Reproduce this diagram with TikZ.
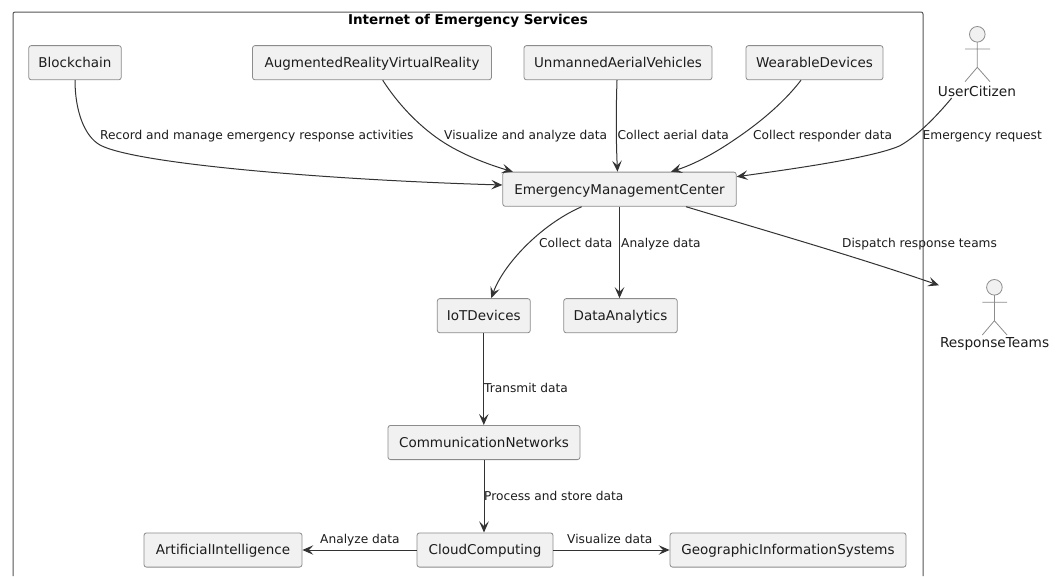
\documentclass[tikz,border=0pt]{standalone}
\usepackage{fontspec}
\setmainfont{DejaVu Sans}
\usetikzlibrary{arrows.meta}
\definecolor{boxfill}{HTML}{F1F1F1}
\definecolor{boxline}{HTML}{8C8C8C}
\definecolor{framel}{HTML}{555555}
\definecolor{connc}{HTML}{333333}
\definecolor{ink}{HTML}{1C1C1C}
\tikzset{
  box/.style={draw=boxline,fill=boxfill,line width=0.8pt,rounded corners=2.5pt,minimum height=34.2pt,inner sep=0pt,text=ink,text height=9.6pt,text depth=0pt,font=\fontsize{13.5}{15}\selectfont},
  lab/.style={anchor=west,inner sep=0pt,text=ink,font=\fontsize{12.2}{13}\selectfont,text height=8.6pt,text depth=0pt},
  actlab/.style={inner sep=0pt,text=ink,font=\fontsize{13.7}{15}\selectfont},
  flow/.style={draw=connc,line width=1pt,-{Stealth[length=11pt,width=9.5pt,inset=4.5pt]}},
  stick/.style={draw=boxline,line width=0.8pt},
}
\begin{document}
\begin{tikzpicture}[x=1pt,y=-1pt]
\useasboundingbox[fill=white] (0,0) rectangle (1062,576);
\draw[framel,line width=1pt,rounded corners=2pt] (13,576) -- (13,12) -- (923,12) -- (923,576);
\node[inner sep=0pt,text=black,font=\fontsize{13.5}{15}\selectfont\bfseries] (title) at (468,21) {Internet of Emergency Services};

\node[box,minimum width=92.5pt] (bc) at (75,62.7) {Blockchain};
\node[box,minimum width=239pt] (ar) at (372,62.7) {AugmentedRealityVirtualReality};
\node[box,minimum width=188pt] (uav) at (618,62.7) {UnmannedAerialVehicles};
\node[box,minimum width=137pt] (wd) at (814.5,62.7) {WearableDevices};
\node[box,minimum width=233.5pt] (emc) at (619.5,189.2) {EmergencyManagementCenter};
\node[box,minimum width=93pt] (iot) at (483.8,315.7) {IoTDevices};
\node[box,minimum width=113.5pt] (da) at (620.5,315.7) {DataAnalytics};
\node[box,minimum width=192pt] (cn) at (484,442.5) {CommunicationNetworks};
\node[box,minimum width=136pt] (cc) at (485,550) {CloudComputing};
\node[box,minimum width=158pt] (ai) at (223,550) {ArtificialIntelligence};
\node[box,minimum width=236pt] (gis) at (788,550) {GeographicInformationSystems};

\draw[stick,fill=boxfill] (977.3,34.3) circle (7.8);
\draw[stick] (977.3,42.1) -- (977.3,67.3) (965,49) -- (990,49) (965,81.7) -- (977.3,67.3) -- (990,81.7);
\draw[stick,fill=boxfill] (994.4,287.3) circle (7.8);
\draw[stick] (994.4,295.1) -- (994.4,320.7) (982.3,302.3) -- (1007,302.3) (982.3,335) -- (994.4,320.7) -- (1007,335);
\node[actlab] (uc) at (977,91) {UserCitizen};
\node[actlab] (rt) at (994.6,344.3) {ResponseTeams};

\coordinate (w1) at (100,145);
\coordinate (w2) at (440,140);
\coordinate (w3) at (734,140);
\coordinate (w4) at (900,145.7);

\draw[flow] (bc.south) .. controls (75,110) and (84,136) .. (w1) .. controls (135,164) and (330,180) .. ([yshift=4.2pt]emc.west);
\draw[flow] ([xshift=10.7pt]ar.south) .. controls (398,104) and (418,125) .. (w2) .. controls (462,155) and (490,165) .. ([xshift=10.5pt]emc.north west);
\draw[flow] ([xshift=-1pt]uav.south) .. controls (616,110) and (616,140) .. ([xshift=-2pt]emc.north);
\draw[flow] ([xshift=-13.5pt]wd.south) .. controls (782,105) and (755,126) .. (w3) .. controls (715,153) and (695,164) .. ([xshift=51.5pt]emc.north);
\draw[flow] ([shift={(-25.3,7)}]uc.center) .. controls (935,118) and (917,136) .. (w4) .. controls (875,157) and (800,168) .. ([yshift=12.5pt]emc.east);
\draw[flow] ([xshift=-37.8pt]emc.south) .. controls (540,225) and (503,265) .. ([xshift=7.5pt]iot.north);
\draw[flow] (emc.south) -- (emc.south |- da.north);
\draw[flow] ([xshift=66.5pt]emc.south) .. controls (770,232) and (860,258) .. ([shift={(-55.6,-59)}]rt.center);
\draw[flow] (iot.south) -- (iot.south |- cn.north);
\draw[flow] (cn.south) -- (cn.south |- cc.north);
\draw[flow] (cc.west) -- (ai.east);
\draw[flow] (cc.east) -- (gis.west);

\node[lab] (l1) at (100,135) {Record and manage emergency response activities};
\node[lab] (l2) at (444,135) {Visualize and analyze data};
\node[lab] (l3) at (617.5,135) {Collect aerial data};
\node[lab] (l4) at (753,135) {Collect responder data};
\node[lab] (l5) at (922.5,135) {Emergency request};
\node[lab] (l6) at (539,243) {Collect data};
\node[lab] (l7) at (621,243) {Analyze data};
\node[lab] (l8) at (842,243) {Dispatch response teams};
\node[lab] (l9) at (484,388) {Transmit data};
\node[lab] (l10) at (484,496) {Process and store data};
\node[lab] (l11) at (320,539) {Analyze data};
\node[lab] (l12) at (567,539) {Visualize data};
\end{tikzpicture}
\end{document}
